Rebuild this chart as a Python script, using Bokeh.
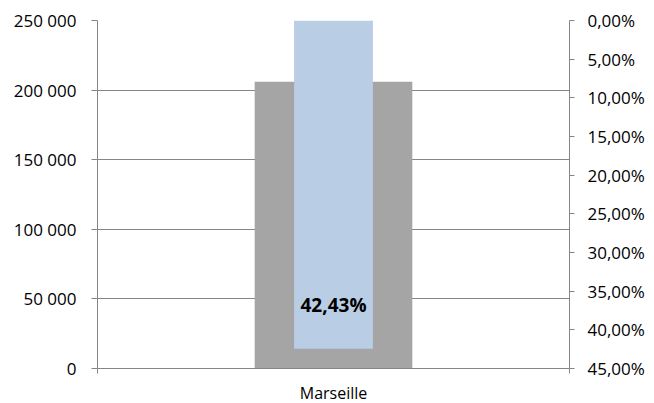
from bokeh.plotting import figure
from bokeh.models import Range1d, LinearAxis, FixedTicker, CustomJSTickFormatter
from bokeh.core.properties import value
from bokeh.embed import file_html
from bokeh.resources import INLINE

# ---- data ----
categories = ["Marseille"]
population = [206000]
share = [0.4243]
left_ticks = [0, 50000, 100000, 150000, 200000, 250000]
right_ticks = [0.0, 0.05, 0.10, 0.15, 0.20, 0.25, 0.30, 0.35, 0.40, 0.45]

FONT = "Open Sans"
AXIS_COL = "#868686"
x_pos = [i + 0.5 for i in range(len(categories))]

p = figure(frame_width=472, frame_height=348,
           min_border_left=97, min_border_right=85, min_border_top=20, min_border_bottom=30,
           x_range=Range1d(0, len(categories)), y_range=Range1d(0, 250000),
           output_backend="svg", toolbar_location=None, tools="")
p.extra_y_ranges = {"pct": Range1d(0.45, 0.0)}
p.outline_line_color = None
p.background_fill_color = "white"
p.border_fill_color = "white"

# bars
p.vbar(x=x_pos, top=population, bottom=0, width=0.334, color="#a5a5a5", line_color=None)
p.vbar(x=x_pos, top=[0.0] * len(share), bottom=share, width=0.167,
       color="#b9cde5", line_color=None, y_range_name="pct")
labels = [f"{v*100:.2f}".replace(".", ",") + "%" for v in share]
p.text(x=x_pos, y=[v - 0.057 for v in share], text=labels, y_range_name="pct",
       text_align="center", text_baseline="middle", text_font=value(FONT),
       text_font_style="bold", text_font_size="19px", text_color="black")

# x axis
xa = p.xaxis[0]
xa.ticker = FixedTicker(ticks=x_pos, minor_ticks=[float(i) for i in range(len(categories) + 1)])
xa.major_label_overrides = {x: c for x, c in zip(x_pos, categories)}
xa.major_tick_line_color = None
xa.major_tick_out = 0
xa.major_tick_in = 0
xa.minor_tick_line_color = AXIS_COL
xa.minor_tick_out = 5
xa.minor_tick_in = 0
xa.axis_line_color = AXIS_COL
xa.major_label_standoff = 8
xa.major_label_text_font = FONT
xa.major_label_text_font_size = "16px"
xa.major_label_text_color = "black"
p.xgrid.visible = False

# left axis
ya = p.yaxis[0]
ya.ticker = FixedTicker(ticks=left_ticks)
ya.formatter = CustomJSTickFormatter(code="return Math.round(tick).toString().replace(/\\B(?=(\\d{3})+(?!\\d))/g, ' ');")
ya.axis_line_color = AXIS_COL
ya.major_tick_line_color = AXIS_COL
ya.major_tick_out = 6
ya.major_tick_in = 0
ya.minor_tick_line_color = None
ya.major_label_standoff = 15
ya.major_label_text_font = FONT
ya.major_label_text_font_size = "17px"
ya.major_label_text_color = "black"
p.ygrid.ticker = FixedTicker(ticks=left_ticks)
p.ygrid.grid_line_color = AXIS_COL
p.ygrid.grid_line_width = 1

# right axis
ra = LinearAxis(y_range_name="pct", ticker=FixedTicker(ticks=right_ticks),
                formatter=CustomJSTickFormatter(code="return (tick*100).toFixed(2).replace('.', ',') + '%';"))
ra.axis_line_color = AXIS_COL
ra.major_tick_line_color = AXIS_COL
ra.major_tick_out = 5
ra.major_tick_in = 0
ra.minor_tick_line_color = None
ra.major_label_standoff = 13
ra.major_label_text_font = FONT
ra.major_label_text_font_size = "17px"
ra.major_label_text_color = "black"
p.add_layout(ra, "right")

open("out.html", "w").write(file_html(p, INLINE))
